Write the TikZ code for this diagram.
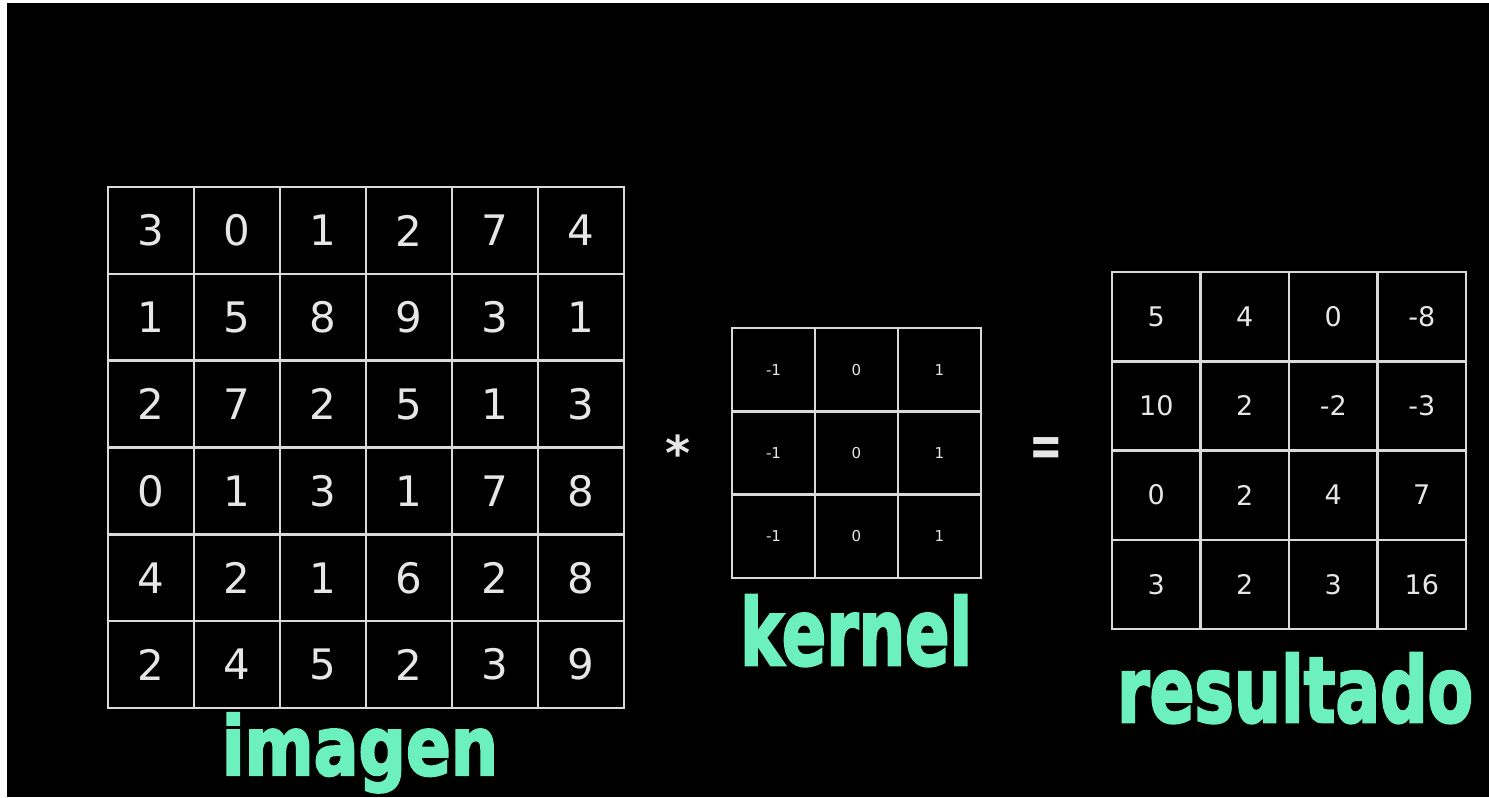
\documentclass[tikz,border=0pt]{standalone}
\usepackage{fontspec}
\usepackage{graphicx}
\setmainfont{DejaVu Sans}
\newfontfamily\heavyfont{DejaVu Sans}[BoldFeatures={FakeBold=3}]
\definecolor{mint}{RGB}{108,240,190}
\definecolor{gridc}{RGB}{218,218,218}
\definecolor{numc}{RGB}{230,230,230}
\tikzset{
  cellbox/.style={draw=gridc, line width=2.5pt, rectangle, inner sep=0pt, text=numc, anchor=center},
  imgcell/.style={cellbox, minimum width=86pt, minimum height=86.83pt, font=\fontsize{42}{42}\selectfont},
  kercell/.style={cellbox, minimum width=83pt, minimum height=83.33pt, font=\fontsize{15}{15}\selectfont},
  rescell/.style={cellbox, minimum width=88.5pt, minimum height=89.25pt, font=\fontsize{27}{27}\selectfont},
  lbl/.style={text=mint, anchor=base, inner sep=0pt, font=\heavyfont\bfseries},
  opsign/.style={text=numc, anchor=base, inner sep=0pt}
}
\begin{document}
\begin{tikzpicture}[x=1pt,y=-1pt]
\fill[white] (0,0) rectangle (1489,798);
\fill[black] (7,3) rectangle (1489,797);
\useasboundingbox (0,0) rectangle (1489,798);
% image 6x6
\foreach \row [count=\r from 0] in {{3,0,1,2,7,4},{1,5,8,9,3,1},{2,7,2,5,1,3},{0,1,3,1,7,8},{4,2,1,6,2,8},{2,4,5,2,3,9}}
  \foreach \v [count=\c from 0] in \row
    \node[imgcell] (img-\r-\c) at ({108+86*(\c+0.5)},{187+86.83*(\r+0.5)}) {\v};
% kernel 3x3
\foreach \row [count=\r from 0] in {{-1,0,1},{-1,0,1},{-1,0,1}}
  \foreach \v [count=\c from 0] in \row
    \node[kercell] (ker-\r-\c) at ({732+83*(\c+0.5)},{328+83.33*(\r+0.5)}) {\v};
% result 4x4
\foreach \row [count=\r from 0] in {{5,4,0,-8},{10,2,-2,-3},{0,2,4,7},{3,2,3,16}}
  \foreach \v [count=\c from 0] in \row
    \node[rescell] (res-\r-\c) at ({1112+88.5*(\c+0.5)},{272+89.25*(\r+0.5)}) {\v};
% labels
\node[lbl] (imglbl) at (360,775) {\resizebox{276pt}{62pt}{imagen}};
\node[lbl] (kerlbl) at (856,665) {\resizebox{232pt}{70pt}{kernel}};
\node[lbl] (reslbl) at (1295,722) {\resizebox{356pt}{69pt}{resultado}};
% operators
\node[opsign, font=\bfseries\fontsize{48}{48}\selectfont] (star) at (678,470) {*};
\node[opsign, font=\bfseries\fontsize{40}{40}\selectfont] (eq) at (1046,466) {\scalebox{1}[1.5]{=}};
\end{tikzpicture}
\end{document}
